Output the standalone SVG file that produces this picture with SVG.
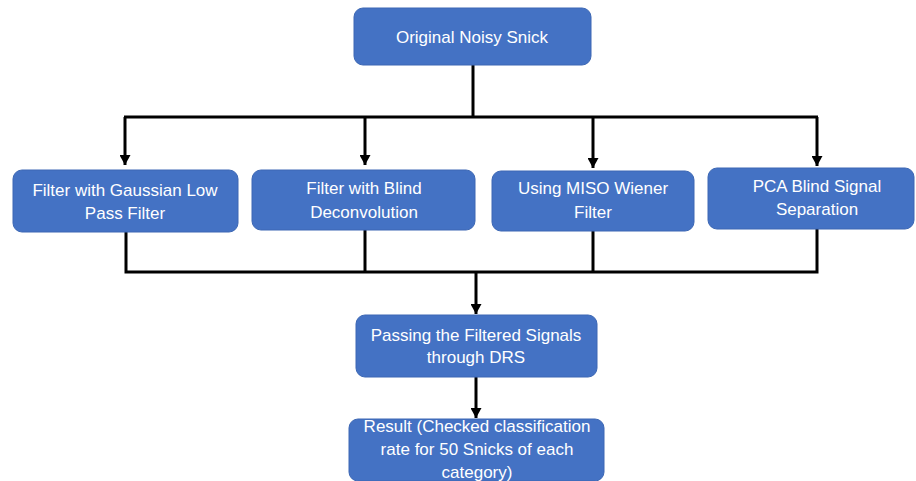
<svg xmlns="http://www.w3.org/2000/svg" width="916" height="481" viewBox="0 0 916 481">
<style>
.box{fill:#4472C4;stroke:#3C67B4;stroke-width:1}
.t{font-family:"Liberation Sans",Arial,sans-serif;font-size:17px;fill:#fff;text-anchor:middle}
.c{fill:none;stroke:#000;stroke-width:3}
</style>
<defs>
<marker id="ah" markerWidth="11" markerHeight="11" refX="10" refY="5.5" orient="auto" markerUnits="userSpaceOnUse" viewBox="0 0 11 11">
<path d="M0,0 L10,5.5 L0,11 Z" fill="#000"/>
</marker>
</defs>
<rect width="916" height="481" fill="#fff"/>
<g id="connectors">
<path class="c" d="M473,65 V117"/>
<path class="c" d="M124,117 H818"/>
<path class="c" d="M125,117 V165" marker-end="url(#ah)"/>
<path class="c" d="M365,117 V165" marker-end="url(#ah)"/>
<path class="c" d="M593,117 V168" marker-end="url(#ah)"/>
<path class="c" d="M817,117 V166" marker-end="url(#ah)"/>
<path class="c" d="M126,232 V272 H817 V229"/>
<path class="c" d="M365,230 V272"/>
<path class="c" d="M593,231 V272"/>
<path class="c" d="M476,272 V314" marker-end="url(#ah)"/>
<path class="c" d="M476,377 V418" marker-end="url(#ah)"/>
</g>
<g id="n1"><rect class="box" x="354" y="8" width="237" height="57" rx="9"/><text class="t" x="472" y="43">Original Noisy Snick</text></g>
<g id="n2"><rect class="box" x="13" y="170" width="225" height="62" rx="9"/><text class="t" x="125" y="196">Filter with Gaussian Low</text><text class="t" x="125" y="219">Pass Filter</text></g>
<g id="n3"><rect class="box" x="252" y="170" width="223" height="60" rx="9"/><text class="t" x="364" y="194">Filter with Blind</text><text class="t" x="364" y="218">Deconvolution</text></g>
<g id="n4"><rect class="box" x="492" y="171" width="202" height="60" rx="9"/><text class="t" x="593" y="194">Using MISO Wiener</text><text class="t" x="593" y="218">Filter</text></g>
<g id="n5"><rect class="box" x="708" y="168" width="206" height="61" rx="9"/><text class="t" x="817" y="192">PCA Blind Signal</text><text class="t" x="817" y="215">Separation</text></g>
<g id="n6"><rect class="box" x="356" y="315" width="241" height="62" rx="9"/><text class="t" x="476" y="341">Passing the Filtered Signals</text><text class="t" x="476" y="363">through DRS</text></g>
<g id="n7"><rect class="box" x="349" y="419" width="255" height="62" rx="9"/><text class="t" x="477" y="432">Result (Checked classification</text><text class="t" x="477" y="455">rate for 50 Snicks of each</text><text class="t" x="477" y="478">category)</text></g>
</svg>
